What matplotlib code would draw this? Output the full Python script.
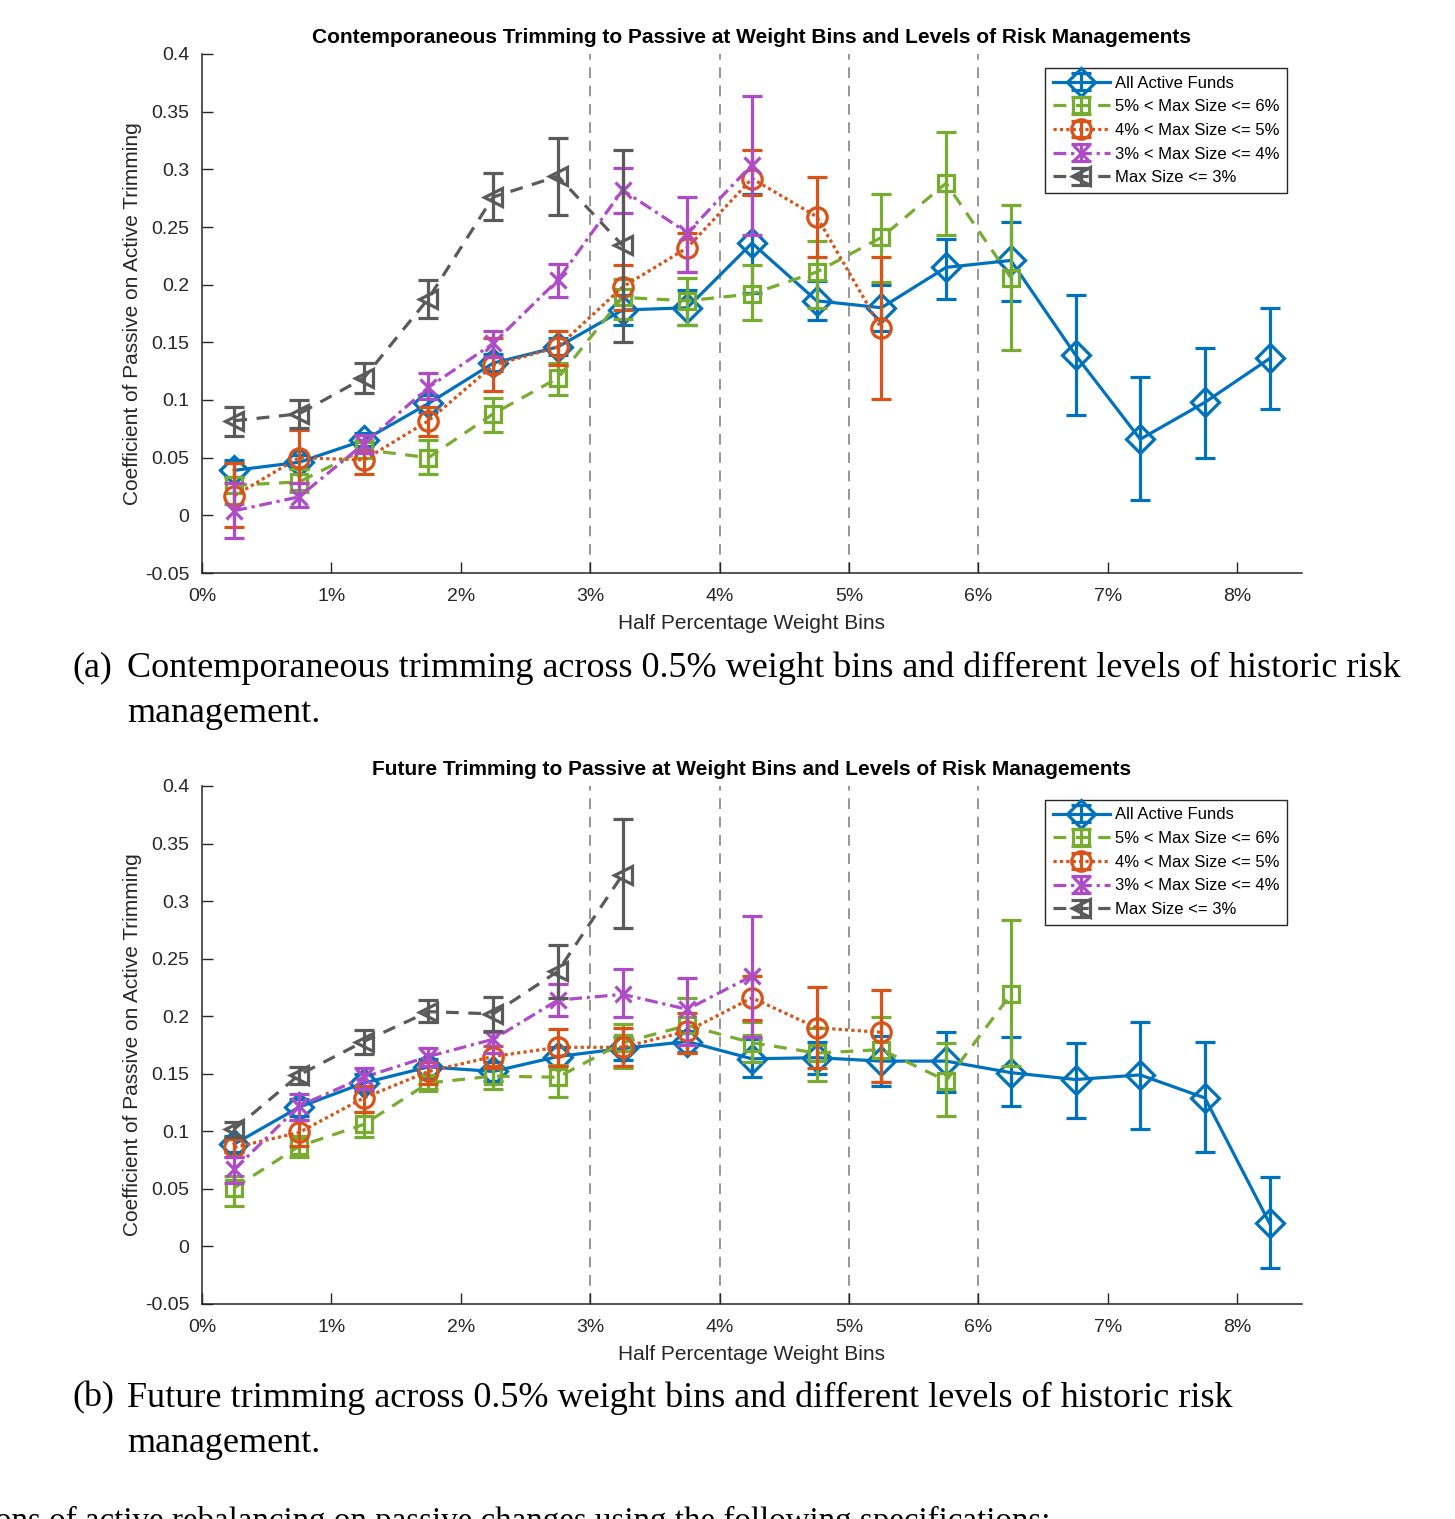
import numpy as np
import matplotlib
matplotlib.use("Agg")
import matplotlib.pyplot as plt

# ---------------- data ----------------
bins = [0.25, 0.75, 1.25, 1.75, 2.25, 2.75, 3.25, 3.75, 4.25, 4.75, 5.25, 5.75, 6.25, 6.75, 7.25, 7.75, 8.25]
xtick_vals = [0, 1, 2, 3, 4, 5, 6, 7, 8]
xtick_labels = ["0%", "1%", "2%", "3%", "4%", "5%", "6%", "7%", "8%"]
ytick_vals = [-0.05, 0, 0.05, 0.1, 0.15, 0.2, 0.25, 0.3, 0.35, 0.4]
vlines_at = [3, 4, 5, 6]

series_names = ["All Active Funds", "5% < Max Size <= 6%", "4% < Max Size <= 5%",
                "3% < Max Size <= 4%", "Max Size <= 3%"]

# (a) contemporaneous trimming
a_all = [0.039, 0.046, 0.065, 0.097, 0.132, 0.146, 0.178, 0.180, 0.236, 0.186, 0.180, 0.215, 0.221, 0.139, 0.066, 0.098, 0.136]
a_all_lo = [0.033, 0.040, 0.060, 0.090, 0.125, 0.139, 0.165, 0.165, 0.193, 0.169, 0.160, 0.188, 0.186, 0.087, 0.013, 0.050, 0.092]
a_all_hi = [0.048, 0.052, 0.071, 0.104, 0.140, 0.154, 0.191, 0.195, 0.279, 0.203, 0.200, 0.240, 0.254, 0.191, 0.120, 0.145, 0.180]

a_s56 = [0.026, 0.029, 0.057, 0.050, 0.088, 0.119, 0.189, 0.186, 0.192, 0.211, 0.241, 0.288, 0.206]
a_s56_lo = [0.010, 0.020, 0.050, 0.036, 0.072, 0.104, 0.170, 0.165, 0.169, 0.180, 0.202, 0.243, 0.143]
a_s56_hi = [0.045, 0.040, 0.065, 0.065, 0.102, 0.132, 0.205, 0.206, 0.217, 0.238, 0.279, 0.332, 0.269]

a_s45 = [0.017, 0.050, 0.048, 0.082, 0.130, 0.146, 0.198, 0.232, 0.292, 0.259, 0.162]
a_s45_lo = [-0.010, 0.028, 0.036, 0.069, 0.108, 0.130, 0.178, 0.211, 0.278, 0.224, 0.101]
a_s45_hi = [0.045, 0.074, 0.056, 0.094, 0.154, 0.160, 0.217, 0.245, 0.317, 0.293, 0.224]

a_s34 = [0.004, 0.016, 0.062, 0.111, 0.149, 0.204, 0.282, 0.245, 0.304]
a_s34_lo = [-0.020, 0.007, 0.054, 0.101, 0.137, 0.189, 0.262, 0.211, 0.243]
a_s34_hi = [0.028, 0.028, 0.070, 0.123, 0.160, 0.218, 0.301, 0.276, 0.364]

a_s3 = [0.082, 0.088, 0.119, 0.188, 0.276, 0.294, 0.234]
a_s3_lo = [0.069, 0.076, 0.106, 0.171, 0.256, 0.260, 0.150]
a_s3_hi = [0.094, 0.100, 0.132, 0.204, 0.297, 0.327, 0.317]

# (b) future trimming
b_all = [0.089, 0.121, 0.142, 0.156, 0.152, 0.165, 0.172, 0.178, 0.163, 0.164, 0.161, 0.161, 0.151, 0.145, 0.149, 0.129, 0.020]
b_all_lo = [0.082, 0.113, 0.135, 0.149, 0.144, 0.157, 0.162, 0.169, 0.147, 0.150, 0.139, 0.134, 0.122, 0.112, 0.102, 0.082, -0.019]
b_all_hi = [0.096, 0.128, 0.150, 0.163, 0.160, 0.173, 0.182, 0.187, 0.180, 0.178, 0.183, 0.186, 0.182, 0.177, 0.195, 0.178, 0.060]

b_s56 = [0.051, 0.087, 0.106, 0.142, 0.148, 0.147, 0.177, 0.192, 0.177, 0.168, 0.171, 0.144, 0.219]
b_s56_lo = [0.035, 0.078, 0.095, 0.137, 0.137, 0.130, 0.155, 0.168, 0.160, 0.144, 0.143, 0.113, 0.157]
b_s56_hi = [0.061, 0.096, 0.117, 0.148, 0.156, 0.158, 0.193, 0.216, 0.195, 0.190, 0.199, 0.177, 0.284]

b_s45 = [0.086, 0.099, 0.129, 0.152, 0.165, 0.173, 0.173, 0.187, 0.216, 0.190, 0.186]
b_s45_lo = [0.078, 0.087, 0.117, 0.141, 0.155, 0.157, 0.157, 0.168, 0.197, 0.155, 0.143]
b_s45_hi = [0.093, 0.110, 0.139, 0.160, 0.174, 0.189, 0.190, 0.203, 0.235, 0.225, 0.223]

b_s34 = [0.067, 0.122, 0.147, 0.165, 0.180, 0.214, 0.219, 0.206, 0.235]
b_s34_lo = [0.055, 0.110, 0.137, 0.157, 0.168, 0.200, 0.199, 0.175, 0.182]
b_s34_hi = [0.078, 0.132, 0.155, 0.172, 0.186, 0.228, 0.241, 0.233, 0.287]

b_s3 = [0.102, 0.149, 0.178, 0.204, 0.202, 0.239, 0.323]
b_s3_lo = [0.095, 0.141, 0.167, 0.195, 0.187, 0.216, 0.277]
b_s3_hi = [0.108, 0.156, 0.188, 0.214, 0.217, 0.262, 0.371]

titles = ["Contemporaneous Trimming to Passive at Weight Bins and Levels of Risk Managements",
          "Future Trimming to Passive at Weight Bins and Levels of Risk Managements"]
xlabel = "Half Percentage Weight Bins"
ylabel = "Coefficient of Passive on Active Trimming"
cap_a = ("(a)", "Contemporaneous trimming across 0.5% weight bins and different levels of historic risk", "management.")
cap_b = ("(b)", "Future trimming across 0.5% weight bins and different levels of historic risk", "management.")
bottom_text = "ons of active rebalancing on passive changes using the following specifications:"

# ---------------- styles ----------------
colors = ["#0072BD", "#77AC30", "#D95319", "#B04BC8", "#5A5A5A"]
lstyles = ["-", (0, (4, 3)), (0, (1, 1)), (0, (4, 1.5, 1, 1.5)), (0, (4, 3))]
markers = ["D", "s", "o", "x", "<"]
msizes = [14, 12, 14, 11, 13]

W, H = 1455, 1519
fig = plt.figure(figsize=(W / 100, H / 100), dpi=100)
plt.rcParams["font.family"] = ["Liberation Sans", "DejaVu Sans"]


def make_axes(top_px, bot_px):
    return fig.add_axes([202 / W, 1 - bot_px / H, 1100 / W, (bot_px - top_px) / H])


def draw_panel(ax, title, data):
    for xv in vlines_at:
        ax.axvline(xv, color="#7a7a7a", lw=1.1, ls=(0, (7, 5)), zorder=1)
    handles = []
    for i, (vals, lo, hi) in enumerate(data):
        v = np.array(vals)
        xs = np.array(bins[:len(v)])
        yerr = [v - np.array(lo), np.array(hi) - v]
        c = colors[i]
        eb = ax.errorbar(xs, v, yerr=yerr, color=c, ls=lstyles[i], lw=2.3,
                         marker=markers[i], ms=msizes[i],
                         mfc="none", mec=c, mew=2.3,
                         ecolor=c, elinewidth=2.3, capsize=7, capthick=2.3,
                         zorder=2 + i, label=series_names[i])
        handles.append(eb)
    ax.set_xlim(0, 8.5)
    ax.set_ylim(-0.05, 0.4)
    ax.set_xticks(xtick_vals)
    ax.set_xticklabels(xtick_labels)
    ax.set_yticks(ytick_vals)
    ax.set_yticklabels(["%g" % t for t in ytick_vals])
    ax.tick_params(direction="in", length=8, width=1, colors="#262626",
                   labelsize=14, labelcolor="#262626")
    ax.tick_params(axis="x", pad=11)
    ax.tick_params(axis="y", pad=9)
    for s in ["top", "right"]:
        ax.spines[s].set_visible(False)
    for s in ["left", "bottom"]:
        ax.spines[s].set_color("#262626")
        ax.spines[s].set_linewidth(1.1)
    ax.set_title(title, fontsize=15, fontweight="bold", pad=8)
    ax.set_xlabel(xlabel, fontsize=15, color="#262626", labelpad=6)
    ax.set_ylabel(ylabel, fontsize=15, color="#262626", labelpad=2)
    leg = ax.legend(handles=handles, loc="upper right", bbox_to_anchor=(0.986, 0.973),
                    borderaxespad=0, fontsize=12, handlelength=3.4, handletextpad=0.3,
                    labelspacing=0.52, borderpad=0.45, fancybox=False, framealpha=1,
                    edgecolor="#262626")
    leg.get_frame().set_linewidth(1.0)


ax1 = make_axes(54, 573)
draw_panel(ax1, titles[0], [(a_all, a_all_lo, a_all_hi), (a_s56, a_s56_lo, a_s56_hi),
                            (a_s45, a_s45_lo, a_s45_hi), (a_s34, a_s34_lo, a_s34_hi),
                            (a_s3, a_s3_lo, a_s3_hi)])
ax2 = make_axes(786, 1304)
draw_panel(ax2, titles[1], [(b_all, b_all_lo, b_all_hi), (b_s56, b_s56_lo, b_s56_hi),
                            (b_s45, b_s45_lo, b_s45_hi), (b_s34, b_s34_lo, b_s34_hi),
                            (b_s3, b_s3_lo, b_s3_hi)])

serif = ["Liberation Serif", "DejaVu Serif"]
def caption(cap, y1, y2):
    fig.text(72 / W, 1 - y1 / H, cap[0], fontsize=26, family=serif, va="center", ha="left")
    fig.text(127 / W, 1 - y1 / H, cap[1], fontsize=26, family=serif, va="center", ha="left")
    fig.text(127 / W, 1 - y2 / H, cap[2], fontsize=26, family=serif, va="center", ha="left")

caption(cap_a, 668, 714)
caption(cap_b, 1398, 1444)
fig.text(-5 / W, 1 - 1530 / H, bottom_text, fontsize=23.8, family=serif, va="baseline", ha="left")

fig.savefig("out.png", dpi=100)
